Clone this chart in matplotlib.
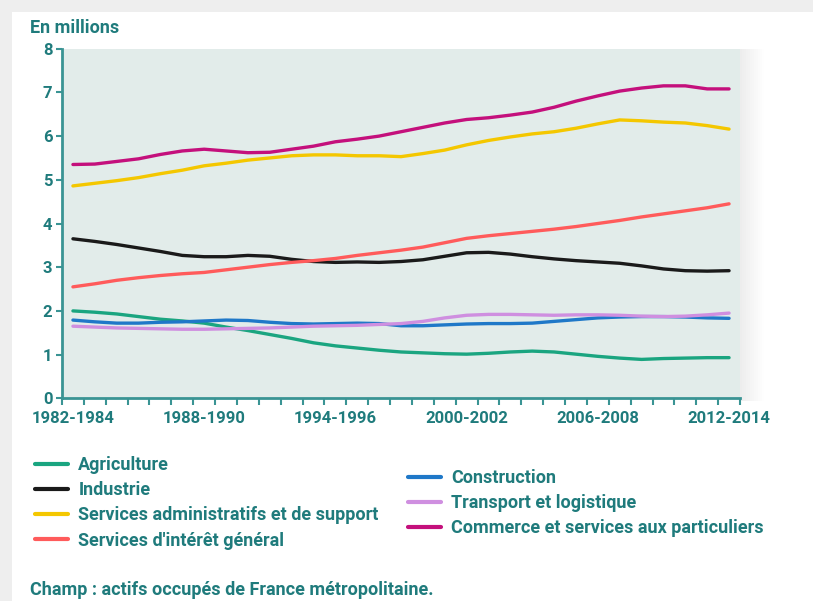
import matplotlib
matplotlib.use("Agg")
import matplotlib.pyplot as plt
from matplotlib import font_manager
from matplotlib.patches import Rectangle
import numpy as np

years = list(range(1983, 2014))
tick_years = [1983, 1989, 1995, 2001, 2007, 2013]
tick_labels = ["1982-1984", "1988-1990", "1994-1996", "2000-2002", "2006-2008", "2012-2014"]

agriculture = [2.00, 1.97, 1.93, 1.87, 1.81, 1.77, 1.72, 1.63, 1.55, 1.46, 1.37, 1.27, 1.20, 1.15, 1.10,
               1.06, 1.04, 1.02, 1.01, 1.03, 1.06, 1.08, 1.06, 1.01, 0.96, 0.92, 0.89, 0.91, 0.92, 0.93, 0.93]
industrie = [3.65, 3.59, 3.52, 3.44, 3.36, 3.27, 3.24, 3.24, 3.27, 3.25, 3.18, 3.13, 3.11, 3.12, 3.11,
             3.13, 3.17, 3.25, 3.33, 3.34, 3.30, 3.24, 3.19, 3.15, 3.12, 3.09, 3.03, 2.96, 2.92, 2.91, 2.92]
services_admin = [4.86, 4.92, 4.98, 5.05, 5.14, 5.22, 5.32, 5.38, 5.45, 5.50, 5.55, 5.57, 5.57, 5.55, 5.55,
                  5.53, 5.60, 5.68, 5.80, 5.90, 5.98, 6.05, 6.10, 6.18, 6.28, 6.37, 6.35, 6.32, 6.30, 6.24, 6.16]
services_interet = [2.55, 2.62, 2.70, 2.76, 2.81, 2.85, 2.88, 2.94, 3.00, 3.06, 3.11, 3.15, 3.20, 3.27, 3.33,
                    3.39, 3.46, 3.56, 3.66, 3.72, 3.77, 3.82, 3.87, 3.93, 4.00, 4.07, 4.15, 4.22, 4.29, 4.36, 4.45]
construction = [1.79, 1.75, 1.72, 1.72, 1.74, 1.75, 1.77, 1.79, 1.78, 1.74, 1.71, 1.70, 1.71, 1.72, 1.71,
                1.66, 1.66, 1.68, 1.70, 1.71, 1.71, 1.72, 1.76, 1.80, 1.84, 1.86, 1.87, 1.87, 1.86, 1.84, 1.83]
transport = [1.65, 1.63, 1.61, 1.60, 1.59, 1.58, 1.58, 1.59, 1.60, 1.61, 1.63, 1.65, 1.66, 1.67, 1.69,
             1.71, 1.76, 1.84, 1.90, 1.92, 1.92, 1.91, 1.90, 1.91, 1.91, 1.90, 1.88, 1.87, 1.88, 1.91, 1.95]
commerce = [5.35, 5.36, 5.42, 5.48, 5.58, 5.66, 5.70, 5.66, 5.62, 5.63, 5.70, 5.77, 5.87, 5.93, 6.00,
            6.10, 6.20, 6.30, 6.38, 6.42, 6.48, 6.55, 6.66, 6.80, 6.92, 7.03, 7.10, 7.15, 7.15, 7.08, 7.08]

names_left = ["Agriculture", "Industrie", "Services administratifs et de support", "Services d'intérêt général"]
names_right = ["Construction", "Transport et logistique", "Commerce et services aux particuliers"]

available = {f.name for f in font_manager.fontManager.ttflist}
fam = [f for f in ["Roboto", "DejaVu Sans"] if f in available]
plt.rcParams["font.family"] = fam + ["DejaVu Sans"]

TEXT = "#1f7b7c"
AXC = "#3a9494"
FS_TICK = 12
FS = 13

fig = plt.figure(figsize=(8.13, 6.01), dpi=100)
fig.patch.set_facecolor("#eeeeee")
fig.patches.append(Rectangle((12 / 813, 0), 1 - 12 / 813, 1 - 12 / 601, transform=fig.transFigure,
                             facecolor="white", edgecolor="none", zorder=0))
for i in range(12):
    fig.patches.append(Rectangle(((740 + i * 2) / 813, (601 - 401) / 601), 2 / 813, (401 - 48.7) / 601,
                                 transform=fig.transFigure, facecolor="#000000",
                                 alpha=0.07 * (1 - i / 12), edgecolor="none", zorder=0.5))

ax = fig.add_axes([62 / 813, (601 - 398.3) / 601, (740 - 62) / 813, (398.3 - 48.7) / 601])
ax.set_zorder(2)
ax.set_facecolor("#e2ecea")

series = [
    (agriculture, "#1aa580"),
    (industrie, "#1a1a1a"),
    (services_admin, "#f4c700"),
    (services_interet, "#ff5b5b"),
    (construction, "#1f78c8"),
    (transport, "#cf8fe0"),
    (commerce, "#c4107c"),
]
labels = names_left + names_right
lines = []
for (vals, col), lab in zip(series, labels):
    ln, = ax.plot(years, vals, color=col, lw=2.4, label=lab, solid_capstyle="round")
    lines.append(ln)

ax.set_xlim(1982.5, 2013.5)
ax.set_ylim(0, 8)
for s in ["top", "right"]:
    ax.spines[s].set_visible(False)
for s in ["left", "bottom"]:
    ax.spines[s].set_color(AXC)
    ax.spines[s].set_linewidth(2)

ax.set_yticks(range(0, 9))
ax.tick_params(axis="y", direction="out", length=4, width=1.5, color=AXC, labelcolor=TEXT,
               labelsize=FS_TICK, pad=3)
ax.set_xticks(tick_years)
ax.set_xticklabels(tick_labels)
ax.set_xticks(np.arange(1982.5, 2014.0, 1.0), minor=True)
ax.tick_params(axis="x", which="major", length=0, labelcolor=TEXT, labelsize=FS_TICK, pad=9)
ax.tick_params(axis="x", which="minor", direction="out", length=5, width=1.5, color=AXC)
for t in ax.get_xticklabels() + ax.get_yticklabels():
    t.set_fontweight("bold")

fig.text(30 / 813, 1 - 28 / 601, "En millions", color=TEXT, fontsize=FS, fontweight="bold",
         ha="left", va="center")
fig.text(30 / 813, 1 - 590 / 601, "Champ : actifs occupés de France métropolitaine.", color=TEXT,
         fontsize=FS, fontweight="bold", ha="left", va="center")

leg_kw = dict(frameon=False, handlelength=1.8, handletextpad=0.6, labelspacing=0.4,
              prop={"size": FS, "weight": "bold"}, labelcolor=TEXT, borderaxespad=0, borderpad=0)
leg1 = fig.legend(lines[:4], names_left, loc="upper left", bbox_to_anchor=(35 / 813, 1 - 456 / 601), **leg_kw)
leg2 = fig.legend(lines[4:], names_right, loc="upper left", bbox_to_anchor=(408 / 813, 1 - 469 / 601), **leg_kw)
for leg in (leg1, leg2):
    for h in leg.legend_handles:
        h.set_linewidth(3)

fig.savefig("out.png", dpi=100, facecolor=fig.get_facecolor())
